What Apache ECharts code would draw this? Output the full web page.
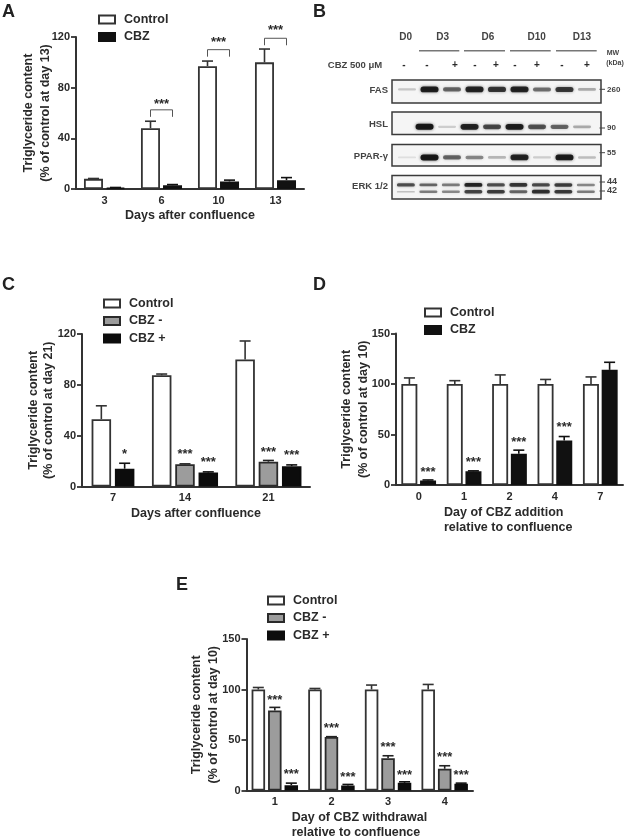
<!DOCTYPE html>
<html><head><meta charset="utf-8">
<script src="https://cdn.jsdelivr.net/npm/echarts@6/dist/echarts.min.js"></script>
<style>html,body{margin:0;padding:0;background:#fff}#c{width:629px;height:840px;filter:blur(0.55px)}</style>
</head><body><div id="c"></div>
<script>
// Panel A
const aDays=['3','6','10','13'];
const aControl=[8,48,97,100];
const aControlErr=[0.3,5.5,4,10.5];
const aCbz=[1,3,6,7];
const aCbzErr=[0.2,0.5,1,2];
const aBracket=[null,62.5,110,119];
const aStarLevel=[null,69,118,127.5];
// Panel C
const cDays=['7','14','21'];
const cDayPos=[1.33,4.42,8];
const cControl=[[0.83,53],[3.42,87.5],[7,100]];
const cControlErr=[10.5,1,14.5];
const cMinus=[[4.42,17.5],[8,19.5]];
const cMinusErr=[0.3,1];
const cPlus=[[1.83,14],[5.42,11],[9,16]];
const cPlusErr=[4.3,0.5,1];
const cMinusStars=[27.5,29.5];
const cPlusStars=[27.3,21,26.5];
// Panel D
const dDays=['0','1','2','4','7'];
const dControl=[100,100,100,100,100];
const dControlErr=[6,3.3,9,4.5,7];
const dCbz=[4.5,13.5,31,44,114];
const dCbzErr=[0.5,0.5,3.5,4,7.5];
const dStars=[15.5,25.5,45.5,59.5,null];
// Panel E
const eDays=['1','2','3','4'];
const eControl=[100,100,100,100];
const eControlErr=[2,1,4.4,5];
const eMinus=[79.3,53,32,21.5];
const eMinusErr=[3,0.3,2.4,3];
const ePlus=[5.3,5,7.6,6.6];
const ePlusErr=[2,1,1,0.7];
const eMinusStars=[91.8,64.4,45.6,35.7];
const ePlusStars=[18.8,16.2,18.2,18.2];
// Panel B blots: band intensity per lane, 0..1
const blotHeaders=['D0','D3','D6','D10','D13'];
const blotTreatment=['-','-','+','-','+','-','+','-','+'];
const fasLevels=[0.18,0.95,0.6,0.92,0.82,0.92,0.55,0.8,0.3];
const hslLevels=[0,1,0.15,0.92,0.72,0.95,0.68,0.6,0.3];
const pparLevels=[0.07,1,0.6,0.45,0.25,0.92,0.15,0.97,0.22];
const erkUpper=[0.7,0.6,0.5,0.92,0.7,0.82,0.72,0.78,0.45];
const erkLower=[0.2,0.5,0.45,0.75,0.78,0.6,0.85,0.8,0.5];
const blotMarkers=['260','90','55','44','42'];

const dark='#333', ink='#2a2a2a';
const font='"Liberation Sans", Arial, sans-serif';
const styles={
  'Control':{color:'#fff',borderColor:dark,borderWidth:1.8},
  'CBZ':{color:'#111',borderColor:'#111',borderWidth:1.8},
  'CBZ -':{color:'#9c9c9c',borderColor:'#2a2a2a',borderWidth:1.8},
  'CBZ +':{color:'#0c0c0c',borderColor:'#0c0c0c',borderWidth:1.8}
};
const grids=[],xAxes=[],yAxes=[],series=[],legends=[],graphics=[];

function panel(o){
  const i=grids.length;
  grids.push({left:o.left,top:o.top,width:o.width,height:o.height,outerBoundsMode:'none'});
  const axisLine={lineStyle:{color:dark,width:2}};
  const x={gridIndex:i,axisLine,axisTick:{show:false},
    axisLabel:{color:ink,fontFamily:font,fontWeight:'bold',fontSize:11,margin:6},
    splitLine:{show:false},name:o.xName,nameLocation:'middle',nameGap:o.xGap,
    nameTextStyle:Object.assign({color:ink,fontFamily:font,fontWeight:'bold',fontSize:12.5,lineHeight:15.5},o.xNameStyle||{})};
  if(o.positions){
    Object.assign(x,{type:'value',min:0,max:o.xMax,splitNumber:1});
    x.axisLabel.customValues=o.positions;
    x.axisLabel.formatter=v=>o.cats[o.positions.indexOf(v)];
  } else {
    Object.assign(x,{type:'category',data:o.cats});
  }
  xAxes.push(x);
  yAxes.push({gridIndex:i,type:'value',min:0,max:o.yMax,interval:o.yStep,splitLine:{show:false},
    axisLine:Object.assign({show:true},axisLine),axisTick:{show:true,length:5,lineStyle:{color:dark,width:1.8}},
    axisLabel:{color:ink,fontFamily:font,fontWeight:'bold',fontSize:11,margin:6},
    name:o.yName,nameLocation:'middle',nameRotate:90,nameGap:o.yGap,nameMoveOverlap:false,
    nameTextStyle:{color:ink,fontFamily:font,fontWeight:'bold',fontSize:12.5,lineHeight:o.yLine}});
  legends.push({left:o.legend[0],top:o.legend[1],padding:0,orient:'vertical',itemWidth:16,itemHeight:8,itemGap:o.legendGap,
    selectedMode:false,icon:'rect',data:o.names,
    textStyle:{color:ink,fontFamily:font,fontWeight:'bold',fontSize:12.5,padding:[0,0,0,4]}});
  return i;
}
function bars(g,name,data,w,gap){
  series.push({type:'bar',name,xAxisIndex:g,yAxisIndex:g,data,barWidth:w,barGap:gap,itemStyle:styles[name],z:3,silent:true});
}
function errors(g,xs,vals,errs,off,color){
  series.push({type:'custom',xAxisIndex:g,yAxisIndex:g,z:2,silent:true,clip:false,
    data:vals.map((v,k)=>[xs[k],v,errs[k]]),
    encode:{x:0,y:1},
    renderItem(p,api){
      const x=api.value(0),v=api.value(1),e=api.value(2);
      const a=api.coord([x,v]),b=api.coord([x,v+e]);
      const cx=a[0]+off,st={stroke:color,lineWidth:1.6};
      return {type:'group',children:[
        {type:'line',shape:{x1:cx,y1:a[1],x2:cx,y2:b[1]},style:st},
        {type:'line',shape:{x1:cx-5.5,y1:b[1],x2:cx+5.5,y2:b[1]},style:st}]};
    }});
}
function stars(g,xs,levels,off,glyph){
  const rows=levels.map((v,k)=>[xs[k],v]).filter(r=>r[1]!=null);
  series.push({type:'custom',xAxisIndex:g,yAxisIndex:g,z:4,silent:true,clip:false,data:rows,encode:{x:0,y:1},
    renderItem(p,api){
      const c=api.coord([api.value(0),api.value(1)]);
      return {type:'text',style:{x:c[0]+off,y:c[1]+3,text:glyph||'***',align:'center',verticalAlign:'middle',
        fill:ink,font:'bold 13px '+font}};
    }});
}
function brackets(g,xs,levels,off){
  const rows=levels.map((v,k)=>[xs[k],v]).filter(r=>r[1]!=null);
  series.push({type:'custom',xAxisIndex:g,yAxisIndex:g,z:4,silent:true,clip:false,data:rows,encode:{x:0,y:1},
    renderItem(p,api){
      const c=api.coord([api.value(0),api.value(1)]);
      return {type:'polyline',shape:{points:[[c[0]-off,c[1]+7],[c[0]-off,c[1]],[c[0]+off,c[1]],[c[0]+off,c[1]+7]]},
        style:{stroke:'#555',lineWidth:1,fill:null}};
    }});
}

// Panel A
let g=panel({left:76,top:37,width:228,height:152,cats:aDays,yMax:120,yStep:40,
  xName:'Days after confluence',xGap:19,yName:'Triglyceride content\n(% of control at day 13)',yGap:22,yLine:17,
  legend:[98,13],legendGap:4.5,names:['Control','CBZ']});
bars(g,'Control',aControl,19,'16%');bars(g,'CBZ',aCbz,19,'16%');
errors(g,aDays,aControl,aControlErr,-11,dark);errors(g,aDays,aCbz,aCbzErr,11,'#111');
brackets(g,aDays,aBracket,11);stars(g,aDays,aStarLevel,0);

// Panel C
g=panel({left:82,top:334,width:228,height:152.5,cats:cDays,positions:cDayPos,xMax:9.785,yMax:120,yStep:40,
  xName:'Days after confluence',xGap:19,yName:'Triglyceride content\n(% of control at day 21)',yGap:26,yLine:15,
  legend:[103,297],legendGap:4.5,names:['Control','CBZ -','CBZ +']});
bars(g,'Control',cControl,19.5,'-100%');bars(g,'CBZ -',cMinus,19.5,'-100%');bars(g,'CBZ +',cPlus,19.5,'-100%');
errors(g,cControl.map(d=>d[0]),cControl.map(d=>d[1]),cControlErr,0,dark);
errors(g,cMinus.map(d=>d[0]),cMinus.map(d=>d[1]),cMinusErr,0,'#222');
errors(g,cPlus.map(d=>d[0]),cPlus.map(d=>d[1]),cPlusErr,0,'#111');
stars(g,cMinus.map(d=>d[0]),cMinusStars,0);
stars(g,cPlus.map(d=>d[0]).slice(1),cPlusStars.slice(1),0);
stars(g,cPlus.map(d=>d[0]).slice(0,1),cPlusStars.slice(0,1),0,'*');

// Panel D
g=panel({left:396,top:333.5,width:227,height:151.5,cats:dDays,yMax:150,yStep:50,
  xName:'{l|Day of CBZ addition}\n{l|relative to confluence}',xGap:19.5,yName:'Triglyceride content\n(% of control at day 10)',yGap:23.5,yLine:17,
  xNameStyle:{rich:{l:{width:131,align:'left',color:ink,fontFamily:font,fontWeight:'bold',fontSize:12.5,lineHeight:15.5}}},
  legend:[424,306],legendGap:4.5,names:['Control','CBZ']});
bars(g,'Control',dControl,16,'17%');bars(g,'CBZ',dCbz,16,'17%');
errors(g,dDays,dControl,dControlErr,-9.3,dark);errors(g,dDays,dCbz,dCbzErr,9.3,'#111');
stars(g,dDays,dStars,9.3);

// Panel E
g=panel({left:246.5,top:639,width:226.5,height:151.5,cats:eDays,yMax:150,yStep:50,
  xName:'{l|Day of CBZ withdrawal}\n{l|relative to confluence}',xGap:19,yName:'Triglyceride content\n(% of control at day 10)',yGap:24.5,yLine:17,
  xNameStyle:{rich:{l:{width:136,align:'left',color:ink,fontFamily:font,fontWeight:'bold',fontSize:12.5,lineHeight:15.5}}},
  legend:[267,594],legendGap:4.5,names:['Control','CBZ -','CBZ +']});
bars(g,'Control',eControl,13.5,'22%');bars(g,'CBZ -',eMinus,13.5,'22%');bars(g,'CBZ +',ePlus,13.5,'22%');
errors(g,eDays,eControl,eControlErr,-16.5,dark);errors(g,eDays,eMinus,eMinusErr,0,'#222');errors(g,eDays,ePlus,ePlusErr,16.5,'#111');
stars(g,eDays,eMinusStars,0);stars(g,eDays,ePlusStars,16.5);

// Panel B blots (lane axis, hidden)
function blot(top,height,shift,rows){
  const i=grids.length;
  const laneMin=-0.667+shift;
  grids.push({left:392,top,width:209,height,show:true,backgroundColor:'#f5f5f5',borderColor:'#3a3a3a',borderWidth:1.5,outerBoundsMode:'none'});
  xAxes.push({gridIndex:i,type:'value',min:laneMin,max:laneMin+9.29,show:false,splitLine:{show:false}});
  yAxes.push({gridIndex:i,type:'value',min:0,max:1,show:false,splitLine:{show:false}});
  const data=[];
  rows.forEach(r=>r.levels.forEach((lv,k)=>{if(lv>0)data.push([k,r.y,lv,r.thick||1]);}));
  series.push({type:'custom',xAxisIndex:i,yAxisIndex:i,silent:true,clip:true,data,encode:{x:0,y:1},z:2,
    renderItem(p,api){
      const c=api.coord([api.value(0),api.value(1)]),v=api.value(2);
      const h=(1.5+4.5*v)*api.value(3),w=18;
      return {type:'rect',shape:{x:c[0]-w/2,y:c[1]-h/2,width:w,height:h,r:h/2},
        style:{fill:'rgba(15,15,15,'+Math.min(1,v*0.9+0.03)+')',shadowBlur:3,shadowColor:'rgba(40,40,40,'+(v*0.8)+')'}};
    }});
}
blot(80,23,0,[{y:0.59,levels:fasLevels}]);
blot(112,22.5,0.22,[{y:0.34,levels:hslLevels}]);
blot(144.5,21.5,0,[{y:0.4,levels:pparLevels}]);
blot(175.5,23.5,0.05,[{y:0.6,levels:erkUpper,thick:0.7},{y:0.31,levels:erkLower,thick:0.7}]);

// Panel B annotations
function txt(s,x,y,size,bold,align,color){
  graphics.push({type:'text',x,y,silent:true,style:{text:s,font:(bold?'bold ':'')+size+'px '+font,fill:color||ink,align:align||'center',verticalAlign:'middle'}});
}
[405.7,442.7,488,536.7,582].forEach((x,k)=>txt(blotHeaders[k],x,37.5,10,true,'center','#444'));
[[419,459.3],[464,505],[510,550.7],[556,596.7]].forEach(s=>graphics.push({type:'line',silent:true,shape:{x1:s[0],y1:50.7,x2:s[1],y2:50.7},style:{stroke:'#777',lineWidth:1.5}}));
[404,427,455,475,496,515,537,562,587].forEach((x,k)=>txt(blotTreatment[k],x,65,10,true));
txt('CBZ 500 μM',355,65.5,9.5,true,'center','#444');
txt('MW',613,52.7,7,true,'center','#444');txt('(kDa)',615,62.7,7,true,'center','#444');
[['FAS',90],['HSL',124],['PPAR-γ',156.7],['ERK 1/2',186]].forEach(r=>txt(r[0],388,r[1],9.5,true,'right','#444'));
[89.3,128,152.7,182,191].forEach((y,k)=>{
  graphics.push({type:'line',silent:true,shape:{x1:599.5,y1:y,x2:605,y2:y},style:{stroke:'#444',lineWidth:1}});
  txt(blotMarkers[k],607,y,k>2?9:8,true,'left','#444');
});
// Panel letters
[['A',2,12],['B',313,12],['C',2,285],['D',313,285],['E',176,585]].forEach(r=>
  txt(r[0],r[1],r[2],18,true,'left','#222'));

const chart=echarts.init(document.getElementById('c'),null,{renderer:'canvas'});
chart.setOption({animation:false,backgroundColor:'#fff',grid:grids,xAxis:xAxes,yAxis:yAxes,series,legend:legends,graphic:{elements:graphics}});
</script></body></html>
